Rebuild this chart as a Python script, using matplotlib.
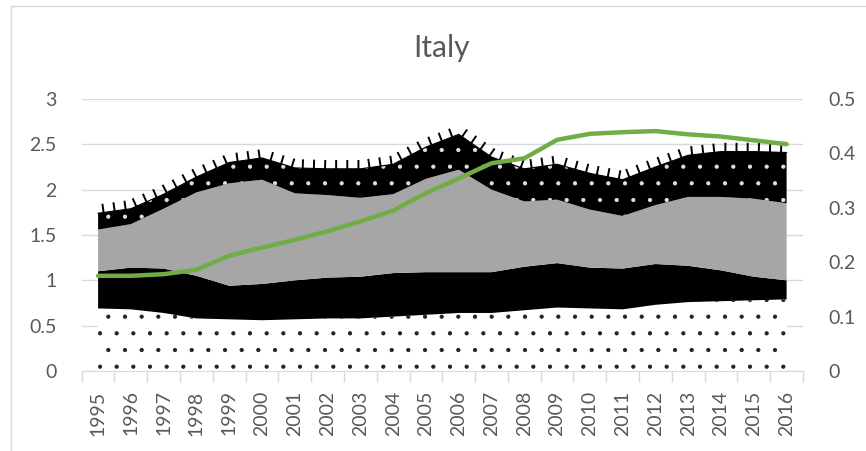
import numpy as np
import matplotlib
matplotlib.use("Agg")
import matplotlib.pyplot as plt
from matplotlib.lines import Line2D
import matplotlib.patheffects as pe

plt.rcParams["font.family"] = ["Lato", "DejaVu Sans"]
plt.rcParams["hatch.linewidth"] = 0.6

years = [str(y) for y in range(1995, 2017)]

# stacked layers (left axis), bottom to top
layer_dots = [0.69, 0.68, 0.64, 0.58, 0.57, 0.56, 0.57, 0.58, 0.58, 0.60, 0.62,
              0.64, 0.64, 0.67, 0.70, 0.69, 0.68, 0.73, 0.76, 0.77, 0.78, 0.79]
layer_black = [0.41, 0.46, 0.49, 0.47, 0.37, 0.40, 0.43, 0.45, 0.46, 0.48, 0.47,
               0.45, 0.45, 0.48, 0.49, 0.45, 0.45, 0.45, 0.40, 0.34, 0.26, 0.21]
layer_gray = [0.46, 0.48, 0.66, 0.92, 1.13, 1.15, 0.96, 0.91, 0.87, 0.87, 1.03,
              1.13, 0.91, 0.72, 0.70, 0.64, 0.58, 0.65, 0.76, 0.81, 0.86, 0.85]
layer_top = [0.18, 0.17, 0.16, 0.17, 0.23, 0.24, 0.28, 0.29, 0.32, 0.33, 0.35,
             0.39, 0.36, 0.36, 0.39, 0.40, 0.40, 0.42, 0.46, 0.50, 0.52, 0.56]

# green line (right axis)
green = [0.175, 0.175, 0.178, 0.186, 0.212, 0.227, 0.241, 0.257, 0.275, 0.295, 0.327,
         0.354, 0.382, 0.391, 0.425, 0.436, 0.439, 0.441, 0.435, 0.431, 0.424, 0.417]

txt = "#595959"
grid = "#d9d9d9"

fig = plt.figure(figsize=(8.66, 4.51), dpi=100)
ax = fig.add_axes([81.7 / 866, 1 - 371 / 451, (803 - 81.7) / 866, (371 - 99) / 451])
x = np.arange(len(years))

polys = ax.stackplot(x, layer_dots, layer_black, layer_gray, layer_top,
                     colors=["white", "black", "#a6a6a6", "black"], linewidth=0)
polys[0].set_hatch(".")
polys[0].set_edgecolor("#222222")
polys[3].set_hatch(".")
polys[3].set_edgecolor("#e0e0e0")

# ragged pattern edge on top of the upper layer
top_edge = np.sum([layer_dots, layer_black, layer_gray, layer_top], axis=0)
ax.plot(x, top_edge, color="black", linewidth=0.8,
        path_effects=[pe.withTickedStroke(angle=90, spacing=8, length=0.7,
                                          linewidth=1.4)])

ax.set_xlim(-0.5, len(years) - 0.5)
ax.set_ylim(0, 3)
ax.set_yticks(np.arange(0, 3.01, 0.5))
ax.set_yticklabels(["0", "0.5", "1", "1.5", "2", "2.5", "3"])
ax.set_xticks(x)
ax.set_xticklabels(years, rotation=90)
ax.set_xticks(np.arange(-0.5, len(years), 1), minor=True)
ax.tick_params(axis="x", which="major", length=0, pad=14, labelsize=14, labelcolor=txt)
ax.tick_params(axis="x", which="minor", length=8, color=grid, width=1)
ax.tick_params(axis="y", length=0, pad=18, labelsize=14, labelcolor=txt)
ax.grid(axis="y", color=grid, linewidth=1)
ax.set_axisbelow(True)
for s in ["top", "right", "left"]:
    ax.spines[s].set_visible(False)
ax.spines["bottom"].set_color(grid)

ax2 = ax.twinx()
ax2.plot(x, green, color="#70ad47", linewidth=3.2, solid_capstyle="round")
ax2.set_ylim(0, 0.5)
ax2.set_yticks(np.arange(0, 0.51, 0.1))
ax2.set_yticklabels(["0", "0.1", "0.2", "0.3", "0.4", "0.5"])
ax2.tick_params(axis="y", length=0, pad=18, labelsize=14, labelcolor=txt)
for s in ax2.spines.values():
    s.set_visible(False)

fig.text(442 / 866, 1 - 57 / 451, "Italy", ha="center", va="baseline",
         fontsize=21.5, color=txt)

# chart frame (only left and top edges visible in the crop)
fig.add_artist(Line2D([11 / 866, 11 / 866], [0, 1 - 6 / 451], color=grid,
                      linewidth=1, transform=fig.transFigure))
fig.add_artist(Line2D([11 / 866, 1], [1 - 6 / 451, 1 - 6 / 451], color=grid,
                      linewidth=1, transform=fig.transFigure))

fig.savefig("out.png", dpi=100)
